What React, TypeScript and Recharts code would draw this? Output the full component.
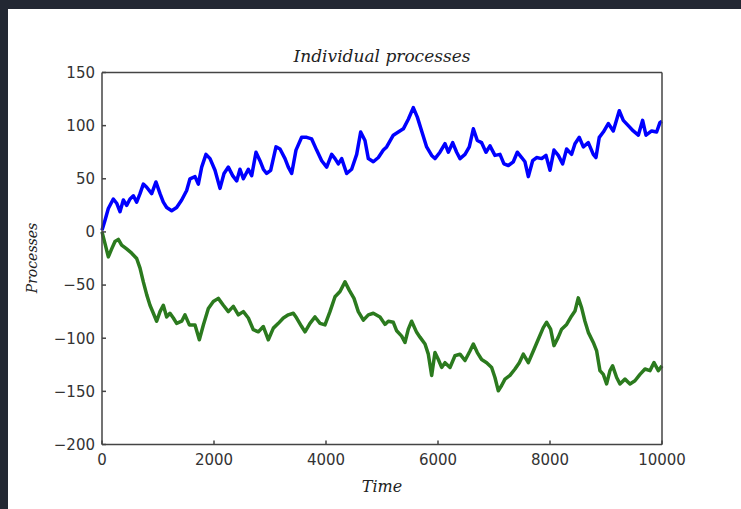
import {Line, LineChart, XAxis, YAxis} from 'recharts';

// values
const xTicks = [0, 2000, 4000, 6000, 8000, 10000];
const yTicks = [150, 100, 50, 0, -50, -100, -150, -200];

const blueTime = [
  0, 54, 113, 202, 262, 321, 381, 440, 500, 560, 619, 679, 738, 798, 887, 964, 1036, 1095, 1155, 1244,
  1333, 1423, 1512, 1571, 1661, 1720, 1780, 1857, 1929, 2018, 2107, 2179, 2256, 2333, 2405, 2464, 2524,
  2613, 2673, 2750, 2821, 2881, 2940, 3012, 3107, 3179, 3268, 3327, 3387, 3464, 3565, 3655, 3744, 3833,
  3923, 4012, 4101, 4161, 4220, 4280, 4369, 4458, 4548, 4619, 4696, 4756, 4845, 4935, 5024, 5083, 5202,
  5291, 5381, 5470, 5559, 5631, 5708, 5797, 5887, 5946, 6035, 6125, 6184, 6262, 6333, 6393, 6482, 6559,
  6631, 6702, 6779, 6857, 6928, 7017, 7107, 7178, 7256, 7345, 7416, 7494, 7553, 7613, 7690, 7761, 7851,
  7928, 8000, 8071, 8148, 8226, 8297, 8386, 8446, 8523, 8595, 8684, 8773, 8821, 8880, 8952, 9041, 9130,
  9237, 9309, 9398, 9487, 9577, 9654, 9714, 9815, 9904, 9964, 10000,
];
const blueValue = [
  1.5, 11, 22, 31, 27, 19, 30, 25, 31, 34, 28, 36, 45, 42, 36, 47, 36, 28, 23, 20,
  23, 30, 39, 50, 52, 45, 61, 73, 69, 58, 41, 55, 61, 53, 48, 59, 50,
  59, 53, 75, 67, 59, 55, 58, 80, 78, 69, 61, 55, 77, 89, 89, 87.5, 77,
  67, 61, 73, 69, 64, 69, 55, 59, 73, 94, 86, 69, 66, 70, 77, 80, 91,
  94, 97, 106, 117, 108, 95, 80, 72, 69, 75, 83, 75, 84, 75, 69, 73, 80,
  97, 86, 84, 75, 81, 72, 73, 64, 62.5, 66, 75, 70, 66, 52, 67, 70, 69,
  72, 58, 77, 72, 64, 78, 73, 83, 89, 80, 84, 73, 70, 89, 94, 102, 95,
  114, 105, 100, 95, 91, 105, 91, 95, 94, 103, 104,
];

const greenTime = [
  0, 54, 113, 173, 232, 292, 351, 440, 530, 619, 679, 738, 798, 857, 917, 976, 1036, 1095, 1155, 1214,
  1274, 1333, 1423, 1482, 1560, 1661, 1738, 1810, 1899, 1988, 2077, 2167, 2256, 2345, 2435, 2524, 2613,
  2702, 2792, 2881, 2970, 3060, 3149, 3238, 3327, 3417, 3476, 3565, 3625, 3714, 3804, 3893, 3982, 4071,
  4161, 4250, 4339, 4417, 4500, 4577, 4667, 4756, 4845, 4964, 5053, 5113, 5202, 5262, 5351, 5410, 5470,
  5529, 5619, 5678, 5768, 5827, 5887, 5946, 6006, 6065, 6125, 6214, 6303, 6393, 6482, 6571, 6631, 6702,
  6779, 6869, 6958, 7017, 7077, 7136, 7196, 7285, 7375, 7452, 7523, 7613, 7702, 7791, 7880, 7940, 8011,
  8071, 8148, 8208, 8297, 8386, 8446, 8505, 8565, 8624, 8684, 8773, 8833, 8892, 8952, 9011, 9071, 9118,
  9190, 9249, 9339, 9428, 9517, 9607, 9696, 9785, 9857, 9934, 10000,
];
const greenValue = [
  0, -11, -23.5, -16, -9, -7, -12.5, -16, -20, -25, -34, -47, -59, -69, -76.5, -84, -75, -69, -80, -76.5,
  -81, -86, -84, -78, -87.5, -87.5, -101.5, -87.5, -72, -65.5, -62.5, -69, -75, -70, -78, -75, -81,
  -92, -94, -89, -101.5, -90.5, -86, -81, -78, -76.5, -81, -89, -94, -86, -80, -86, -87.5, -75,
  -61, -56, -47, -55, -62.5, -75, -83, -78, -76.5, -80, -87, -84, -85, -93, -98, -104, -91.5,
  -84, -94.5, -99, -105.5, -115, -135, -113.5, -120, -127.5, -123, -127.5, -116.5, -115, -121, -112, -105.5, -113.5,
  -120, -123, -127.5, -137, -149.5, -144.5, -138.5, -135, -129, -123, -115, -123, -112, -101, -90, -85, -91.5,
  -107, -99, -91.5, -87, -79, -74.5, -62, -71.5, -84, -94.5, -104, -112, -130.5, -134, -143, -130.5, -126,
  -137, -143, -138.5, -143, -140, -134, -129, -130.5, -123, -130.5, -126,
];

const blueData = blueTime.map((t, i) => ({t, v: blueValue[i]}));
const greenData = greenTime.map((t, i) => ({t, v: greenValue[i]}));

const frame = '#444';
const tickFont = {fontFamily: 'DejaVu Sans', fontSize: 15, fill: '#333'};
const minus = (v: number) => String(v).replace('-', '\u2212');

const labelStyle = {
  position: 'absolute' as const,
  fontFamily: 'DejaVu Serif',
  fontStyle: 'italic',
  color: '#222',
  whiteSpace: 'nowrap' as const,
};

export default function App() {
  return (
    <div style={{position: 'fixed', left: 0, top: 0, width: 741, height: 509, background: '#232833'}}>
      <div style={{position: 'absolute', left: 8, top: 9, right: 0, bottom: 0, background: '#fff'}} />
      <div style={{position: 'absolute', left: 0, top: 0}}>
        <LineChart width={741} height={509} margin={{top: 71.5, right: 78, bottom: 34.5, left: 42}}>
          <XAxis
            xAxisId="b"
            dataKey="t"
            type="number"
            domain={[0, 10000]}
            ticks={xTicks}
            interval={0}
            height={30}
            stroke={frame}
            strokeWidth={1.5}
            tickSize={-4}
            tickMargin={14}
            tick={tickFont}
          />
          <XAxis
            xAxisId="top"
            orientation="top"
            dataKey="t"
            type="number"
            domain={[0, 10000]}
            ticks={xTicks}
            interval={0}
            height={1}
            stroke={frame}
            strokeWidth={1.5}
            tickSize={-4}
            tick={false}
          />
          <YAxis
            yAxisId="l"
            type="number"
            domain={[-200, 150]}
            ticks={yTicks}
            interval={0}
            width={60}
            stroke={frame}
            strokeWidth={1.5}
            tickSize={-4}
            tickMargin={11}
            tick={tickFont}
            tickFormatter={minus}
          />
          <YAxis
            yAxisId="r"
            orientation="right"
            type="number"
            domain={[-200, 150]}
            ticks={yTicks}
            interval={0}
            width={1}
            stroke={frame}
            strokeWidth={1.5}
            tickSize={-4}
            tick={false}
          />
          <Line
            xAxisId="top"
            yAxisId="l"
            data={blueData}
            dataKey="v"
            type="linear"
            stroke="#0000ff"
            strokeWidth={3.5}
            strokeLinejoin="round"
            dot={false}
            isAnimationActive={false}
          />
          <Line
            xAxisId="b"
            yAxisId="r"
            data={greenData}
            dataKey="v"
            type="linear"
            stroke="#2b7a1e"
            strokeWidth={3.5}
            strokeLinejoin="round"
            dot={false}
            isAnimationActive={false}
          />
        </LineChart>
      </div>
      <div style={{...labelStyle, left: 102, width: 560, top: 46, textAlign: 'center', fontSize: 17}}>
        Individual processes
      </div>
      <div style={{...labelStyle, left: 102, width: 560, top: 477, textAlign: 'center', fontSize: 16}}>
        Time
      </div>
      <div
        style={{
          ...labelStyle,
          left: 32,
          top: 258,
          transform: 'translate(-50%, -50%) rotate(-90deg)',
          fontSize: 14,
        }}
      >
        Processes
      </div>
    </div>
  );
}
